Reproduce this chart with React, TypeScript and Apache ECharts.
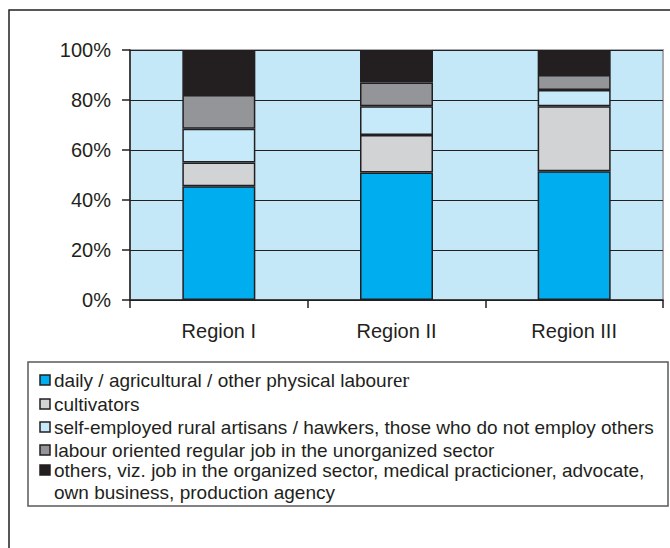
import React, { useEffect, useRef } from "react";
import * as echarts from "echarts";

const categories = ["Region I", "Region II", "Region III"];
const seriesNames = [
  "daily / agricultural / other physical labourer",
  "cultivators",
  "self-employed rural artisans / hawkers, those who do not employ others",
  "labour oriented regular job in the unorganized sector",
  "others, viz. job in the organized sector, medical practicioner, advocate,\nown business, production agency",
];
const labourers = [45.5, 51, 51.5];
const cultivators = [9.5, 15, 26];
const selfEmployed = [13.5, 11.5, 6.5];
const labourRegular = [13.5, 9.5, 6];
const others = [18, 13, 10];
const yTicks = [0, 20, 40, 60, 80, 100];
const colors = ["#00AEEF", "#D1D3D4", "#C7EAFB", "#939598", "#231F20"];

const FONT = "'Liberation Sans', Arial, Helvetica, sans-serif";

export default function App() {
  const ref = useRef<HTMLDivElement>(null);
  useEffect(() => {
    if (!ref.current) return;
    const chart = echarts.init(ref.current, null, { renderer: "svg" });
    const values = [labourers, cultivators, selfEmployed, labourRegular, others];
    const legendTop = [380, 404, 427, 450, 470];
    const legendGraphics: any[] = [];
    seriesNames.forEach((name, i) => {
      const cy = legendTop[i];
      legendGraphics.push({
        type: "rect",
        shape: { x: 40, y: cy - 5, width: 10, height: 10 },
        style: { fill: colors[i], stroke: "#231F20", lineWidth: 1.5 },
        z: 10,
      });
      let text = name;
      let rich: any = undefined;
      if (i === 0) {
        text = "daily / agricultural / other physical labour{s|er}";
        rich = { s: { fontFamily: "'Liberation Serif', 'Times New Roman', serif", fontSize: 21, fill: "#231F20" } };
      }
      legendGraphics.push({
        type: "text",
        x: 54,
        y: cy - 11,
        style: {
          text,
          rich,
          font: `19px ${FONT}`,
          fill: "#231F20",
          lineHeight: 22,
          textVerticalAlign: "top",
        },
        z: 10,
      });
    });

    chart.setOption({
      animation: false,
      textStyle: { fontFamily: FONT },
      grid: {
        left: 130,
        top: 50,
        right: 7,
        bottom: 248,
        show: true,
        backgroundColor: "#C5E8F8",
        borderColor: "#A7A9AC",
        borderWidth: 2,
      },
      xAxis: {
        type: "category",
        data: categories,
        axisLine: { show: true, lineStyle: { color: "#231F20", width: 1.5 } },
        axisTick: { show: true, alignWithLabel: false, length: 8, lineStyle: { color: "#231F20", width: 1.5 } },
        axisLabel: { color: "#231F20", fontSize: 20, margin: 21, fontFamily: FONT },
      },
      yAxis: {
        type: "value",
        min: 0,
        max: 100,
        interval: 20,
        axisLine: { show: true, lineStyle: { color: "#231F20", width: 1.5 } },
        axisTick: { show: true, length: 8, lineStyle: { color: "#231F20", width: 1.5 } },
        axisLabel: {
          color: "#231F20",
          fontSize: 20,
          margin: 19,
          fontFamily: FONT,
          formatter: (v: number) => (yTicks.includes(v) ? `${v}%` : ""),
        },
        splitLine: { show: true, lineStyle: { color: "#231F20", width: 1.2 } },
      },
      series: values.map((data, i) => ({
        name: seriesNames[i],
        type: "bar",
        stack: "total",
        data,
        barWidth: 73,
        itemStyle: { color: colors[i], borderColor: "#231F20", borderWidth: 1.5 },
      })),
      graphic: [
        {
          type: "rect",
          shape: { x: 9, y: 10, width: 800, height: 700 },
          style: { fill: "none", stroke: "#231F20", lineWidth: 1.5 },
          silent: true,
        },
        {
          type: "rect",
          shape: { x: 28, y: 362, width: 640, height: 144 },
          style: { fill: "#FFFFFF", stroke: "#58595B", lineWidth: 1.5 },
          z: 5,
        },
        ...legendGraphics,
      ],
    });
    return () => chart.dispose();
  }, []);
  return (
    <div
      ref={ref}
      style={{ position: "absolute", left: 0, top: 0, width: 670, height: 548, background: "#fff" }}
    />
  );
}
